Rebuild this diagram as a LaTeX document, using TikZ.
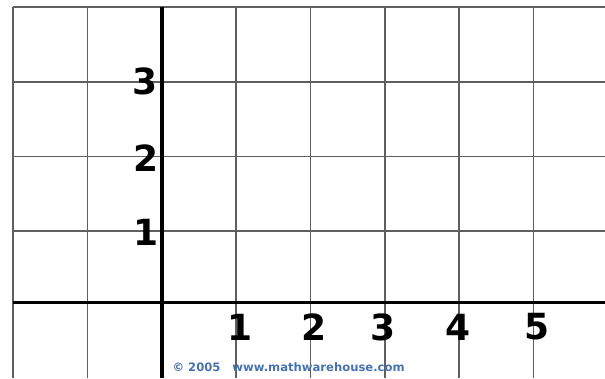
\documentclass[tikz,border=0pt]{standalone}
\usepackage{fontspec}
\newfontfamily\digitfont{DejaVu Sans}[BoldFont={DejaVu Sans Bold}]
\definecolor{gridgray}{RGB}{95,95,95}
\definecolor{credblue}{RGB}{70,115,175}
\begin{document}
\begin{tikzpicture}[x=1pt,y=-1pt,
  gridline/.style={draw=gridgray,line width=1.6pt},
  axisline/.style={draw=black,line width=3.6pt},
  ticklabel/.style={font=\digitfont\bfseries\fontsize{36}{36}\selectfont,inner sep=0pt},
  credit/.style={font=\digitfont\bfseries\fontsize{11.6}{12}\selectfont,text=credblue,inner sep=0pt}]
\useasboundingbox[fill=white] (0,0) rectangle (605,378);
% vertical grid lines
\foreach \x in {13.2,87.5,236.1,310.4,384.7,459,533.3}
  \draw[gridline] (\x,7) -- (\x,378);
% horizontal grid lines
\foreach \y in {7,82,156.5,231}
  \draw[gridline] (13.2,\y) -- (605,\y);
% axes
\draw[axisline] (161.8,7) -- (161.8,378);
\draw[axisline] (13.2,302.5) -- (605,302.5);
% labels
\node[ticklabel] (y3) at (145,81) {3};
\node[ticklabel] (y2) at (146,158) {2};
\node[ticklabel] (y1) at (146,232) {1};
\node[ticklabel] (x1) at (240,327) {1};
\node[ticklabel] (x2) at (314,327) {2};
\node[ticklabel] (x3) at (383,327) {3};
\node[ticklabel] (x4) at (458,327) {4};
\node[ticklabel] (x5) at (537,327) {5};
\node[credit] (copy) at (196.5,367) {© 2005};
\node[credit] (url) at (318.5,367) {www.mathwarehouse.com};
\end{tikzpicture}
\end{document}
